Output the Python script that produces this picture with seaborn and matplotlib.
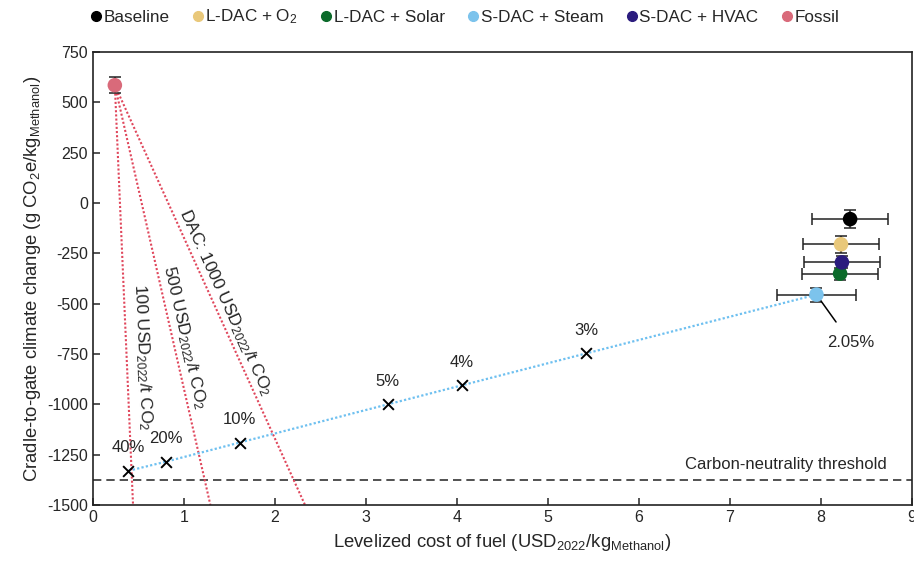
import numpy as np
import pandas as pd
import matplotlib
matplotlib.use("Agg")
import matplotlib.pyplot as plt
import seaborn as sns
from matplotlib.lines import Line2D

# ---------------- data ----------------
scenarios = ["Baseline", "L-DAC + O$_2$", "L-DAC + Solar", "S-DAC + Steam", "S-DAC + HVAC", "Fossil"]
scenario_cost = [8.32, 8.22, 8.21, 7.95, 8.23, 0.24]
scenario_cost_err = [0.42, 0.42, 0.42, 0.43, 0.42, 0.0]
scenario_climate = [-80, -205, -351, -455, -295, 585]
scenario_climate_err = [45, 43, 30, 35, 30, 40]
scenario_colors = ["#000000", "#E9C87A", "#0B6A2A", "#7CC3EC", "#2B1C7E", "#D96A7A"]

share_labels = ["40%", "20%", "10%", "5%", "4%", "3%"]
share_cost = [0.39, 0.80, 1.61, 3.24, 4.05, 5.42]
share_climate = [-1330, -1285, -1190, -1000, -906, -747]

dac_prices = [100, 500, 1000]
dac_end_cost = [0.44, 1.29, 2.33]      # where each line meets y = -1500
dac_end_climate = [-1500, -1500, -1500]
dac_label_cost = [0.545, 1.005, 1.46]
dac_label_climate = [-767, -668, -497]

threshold = -1375
xticks = list(range(0, 10))
yticks = list(range(-1500, 751, 250))

# ---------------- style ----------------
sns.set_style("ticks")
plt.rcParams["font.family"] = ["Liberation Sans", "DejaVu Sans"]
plt.rcParams["mathtext.fontset"] = "custom"
plt.rcParams["mathtext.rm"] = "Liberation Sans"
plt.rcParams["mathtext.it"] = "Liberation Sans"
plt.rcParams["axes.unicode_minus"] = False

fig = plt.figure(figsize=(9.14, 5.67), dpi=100)
ax = fig.add_axes([93 / 914, 1 - 505 / 567, (912 - 93) / 914, (505 - 52) / 567])
ax.set_xlim(0, 9)
ax.set_ylim(-1500, 750)

df = pd.DataFrame({"scenario": scenarios, "cost": scenario_cost, "climate": scenario_climate,
                   "cost_err": scenario_cost_err, "climate_err": scenario_climate_err})
pal = dict(zip(scenarios, scenario_colors))

red = "#E0475C"
fossil_x = scenario_cost[-1]
fossil_y = scenario_climate[-1]

# DAC price lines
for ex, ey in zip(dac_end_cost, dac_end_climate):
    ax.plot([fossil_x, ex], [fossil_y, ey], color=red, ls=(0, (1, 1)), lw=1.5, zorder=2)

# subsidy share line (to S-DAC + Steam)
steam_i = 3
line_x = share_cost + [scenario_cost[steam_i]]
line_y = share_climate + [scenario_climate[steam_i]]
sns.lineplot(x=line_x, y=line_y, ax=ax, color="#6EC0F0", lw=1.6, linestyle=(0, (1, 1)),
             sort=False, estimator=None, zorder=2)

# threshold
ax.axhline(threshold, color="#333333", ls=(0, (5, 3)), lw=1.2, zorder=1)
ax.text(8.72, threshold + 38, "Carbon-neutrality threshold", ha="right", va="bottom", fontsize=12)

# error bars
ax.errorbar(df["cost"], df["climate"], xerr=df["cost_err"], yerr=df["climate_err"],
            fmt="none", ecolor="#222222", elinewidth=1.1, capsize=4, capthick=1.1, zorder=3)

# scenario points
sns.scatterplot(data=df, x="cost", y="climate", hue="scenario", palette=pal, s=110,
                edgecolor="none", ax=ax, zorder=4, legend=False)

# crosses
sns.scatterplot(x=share_cost, y=share_climate, marker="x", color="black", s=60,
                linewidth=1.4, ax=ax, zorder=5)
for lab, cx, cy in zip(share_labels, share_cost, share_climate):
    ax.annotate(lab, (cx, cy), xytext=(0, 11), textcoords="offset points",
                ha="center", va="bottom", fontsize=12)

# 2.05% annotation
ax.annotate("2.05%", xy=(scenario_cost[steam_i], scenario_climate[steam_i]),
            xytext=(8.33, -695), ha="center", va="center", fontsize=12,
            arrowprops=dict(arrowstyle="-", color="black", lw=1.1, shrinkA=9, shrinkB=0))

# DAC labels rotated along lines
fig.canvas.draw()
for price, ex, ey, lx, ly in zip(dac_prices, dac_end_cost, dac_end_climate,
                                 dac_label_cost, dac_label_climate):
    p0 = ax.transData.transform((fossil_x, fossil_y))
    p1 = ax.transData.transform((ex, ey))
    ang = np.degrees(np.arctan2(p1[1] - p0[1], p1[0] - p0[0]))
    prefix = "DAC: " if price == 1000 else ""
    ax.text(lx, ly, f"{prefix}{price} USD$_{{2022}}$/t CO$_2$", rotation=ang,
            rotation_mode="anchor", ha="center", va="center", fontsize=12.5, zorder=6)

# axes
ax.set_xticks(xticks)
ax.set_yticks(yticks)
ax.tick_params(direction="in", length=5, width=1.1, labelsize=11.5)
for s in ax.spines.values():
    s.set_visible(True)
    s.set_color("#222222")
    s.set_linewidth(1.2)
ax.set_xlabel("Levelized cost of fuel (USD$_{2022}$/kg$_{\\mathrm{Methanol}}$)", fontsize=13.3, labelpad=5)
ax.set_ylabel("Cradle-to-gate climate change (g CO$_2$e/kg$_{\\mathrm{Methanol}}$)", fontsize=13.3, labelpad=3)

# legend
handles = [Line2D([], [], marker="o", ls="none", color=c, markersize=7) for c in scenario_colors]
ax.legend(handles, scenarios, loc="center", bbox_to_anchor=(0.454, 1.077), ncol=6, frameon=False,
          fontsize=12.3, handlelength=0.6, handletextpad=0.15, columnspacing=1.35, borderaxespad=0)

fig.savefig("out.png", dpi=100)
